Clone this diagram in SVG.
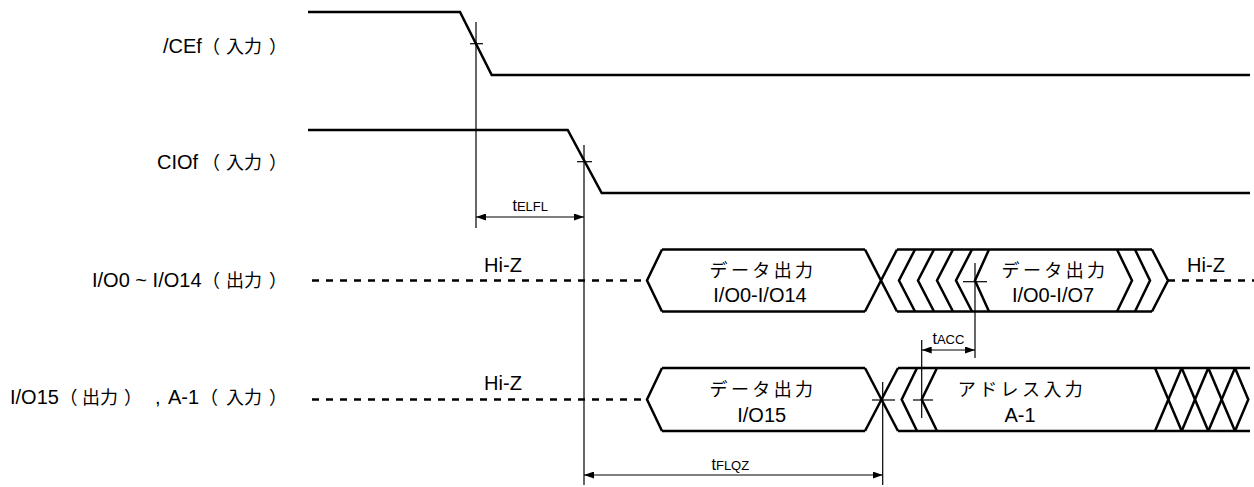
<svg xmlns="http://www.w3.org/2000/svg" width="1254" height="487" viewBox="0 0 1254 487">
<style>
.sig{fill:none;stroke:#000;stroke-width:2.5;stroke-linejoin:miter}
.dash{fill:none;stroke:#000;stroke-width:2.5;stroke-dasharray:7 7}
.thin{fill:none;stroke:#000;stroke-width:1.2}
.lbl{font-family:"Liberation Sans","Noto Sans CJK JP",sans-serif;font-size:20px;fill:#000}
.cjk{font-family:"Noto Sans CJK JP",sans-serif;font-size:18px}
.box{font-family:"Liberation Sans","Noto Sans CJK JP",sans-serif;font-size:20px;fill:#000;text-anchor:middle}
.boxj{font-family:"Noto Sans CJK JP",sans-serif;font-size:18px;letter-spacing:3.4px;fill:#000;text-anchor:middle}
.t{font-family:"Liberation Sans",sans-serif;font-size:16px;fill:#000}
.sub{font-size:13px}
</style>
<defs>
<marker id="ah" viewBox="0 0 10 7" refX="10" refY="3.5" markerWidth="10" markerHeight="7" markerUnits="userSpaceOnUse" orient="auto-start-reverse">
<path d="M0,0 L10,3.5 L0,7 z" fill="#000"/>
</marker>
</defs>
<rect width="1254" height="487" fill="#fff"/>

<g id="labels" class="lbl">
<text id="lbl-cef" y="53"><tspan x="163">/CEf</tspan><tspan class="cjk" x="202">（</tspan><tspan class="cjk" x="226">入力</tspan><tspan class="cjk" x="269">）</tspan></text>
<text id="lbl-ciof" y="169"><tspan x="157">CIOf</tspan><tspan class="cjk" x="202">（</tspan><tspan class="cjk" x="226">入力</tspan><tspan class="cjk" x="269">）</tspan></text>
<text id="lbl-io0" y="286.5"><tspan x="92">I/O0 ~ I/O14</tspan><tspan class="cjk" x="202">（</tspan><tspan class="cjk" x="226">出力</tspan><tspan class="cjk" x="269">）</tspan></text>
<text id="lbl-io15" y="404"><tspan x="10">I/O15</tspan><tspan class="cjk" x="59.5">（</tspan><tspan class="cjk" x="82">出力</tspan><tspan class="cjk" x="124">）</tspan><tspan x="155">,</tspan><tspan x="168">A-1</tspan><tspan class="cjk" x="200">（</tspan><tspan class="cjk" x="226">入力</tspan><tspan class="cjk" x="269">）</tspan></text>
</g>

<g id="sig-cef">
<polyline class="sig" points="308,12 460,12 491.7,75 1250,75"/>
</g>
<g id="sig-ciof">
<polyline class="sig" points="308,130 567.7,130 601.7,193 1250,193"/>
</g>

<g id="sig-io0">
<line class="dash" x1="312" y1="280.5" x2="647" y2="280.5"/>
<polyline class="sig" points="662,249.5 647,280.5 662,311.5"/>
<line class="sig" x1="662" y1="249.5" x2="865" y2="249.5"/>
<line class="sig" x1="662" y1="311.5" x2="865" y2="311.5"/>
<line class="sig" x1="865" y1="249.5" x2="897" y2="311.5"/>
<line class="sig" x1="865" y1="311.5" x2="897" y2="249.5"/>
<line class="sig" x1="897" y1="249.5" x2="1152" y2="249.5"/>
<line class="sig" x1="897" y1="311.5" x2="1152" y2="311.5"/>
<polyline class="sig" points="915,249.5 899,280.5 915,311.5"/>
<polyline class="sig" points="934,249.5 918,280.5 934,311.5"/>
<polyline class="sig" points="953,249.5 937,280.5 953,311.5"/>
<polyline class="sig" points="972,249.5 956,280.5 972,311.5"/>
<polyline class="sig" points="989,249.5 975,280.5 989,311.5"/>
<polyline class="sig" points="1117,249.5 1132,280.5 1117,311.5"/>
<polyline class="sig" points="1135,249.5 1150,280.5 1135,311.5"/>
<polyline class="sig" points="1152,249.5 1168,280.5 1152,311.5"/>
<line class="dash" x1="1168" y1="280.5" x2="1254" y2="280.5"/>
<text class="box" x="503" y="272">Hi-Z</text>
<text class="boxj" x="763" y="277">データ出力</text>
<text class="box" x="760" y="301.5">I/O0-I/O14</text>
<text class="boxj" x="1055" y="277">データ出力</text>
<text class="box" x="1053" y="301.5">I/O0-I/O7</text>
<text class="box" x="1206" y="271.5">Hi-Z</text>
</g>

<g id="sig-io15">
<line class="dash" x1="312" y1="399.5" x2="647" y2="399.5"/>
<polyline class="sig" points="662,368 647,399.5 662,431"/>
<line class="sig" x1="662" y1="368" x2="865" y2="368"/>
<line class="sig" x1="662" y1="431" x2="865" y2="431"/>
<line class="sig" x1="865" y1="368" x2="898" y2="431"/>
<line class="sig" x1="865" y1="431" x2="898" y2="368"/>
<line class="sig" x1="898" y1="368" x2="1250" y2="368"/>
<line class="sig" x1="898" y1="431" x2="1250" y2="431"/>
<polyline class="sig" points="917,368 901.7,399.5 917,431"/>
<polyline class="sig" points="937,368 921.7,399.5 937,431"/>
<line class="sig" x1="1155" y1="368" x2="1181.7" y2="431"/>
<line class="sig" x1="1155" y1="431" x2="1181.7" y2="368"/>
<line class="sig" x1="1181.7" y1="368" x2="1208.3" y2="431"/>
<line class="sig" x1="1181.7" y1="431" x2="1208.3" y2="368"/>
<line class="sig" x1="1208.3" y1="368" x2="1235" y2="431"/>
<line class="sig" x1="1208.3" y1="431" x2="1235" y2="368"/>
<polyline class="sig" points="1235,368 1248.3,399.5 1235,431"/>
<text class="box" x="503" y="390">Hi-Z</text>
<text class="boxj" x="763" y="396">データ出力</text>
<text class="box" x="761.7" y="421.7">I/O15</text>
<text class="boxj" x="1022" y="396">アドレス入力</text>
<text class="box" x="1020" y="421.7">A-1</text>
</g>

<g id="connectors">
<line class="thin" x1="476" y1="22" x2="476" y2="228"/>
<line class="thin" x1="470" y1="43.7" x2="483" y2="43.7"/>
<line class="thin" x1="584" y1="145" x2="584" y2="485"/>
<line class="thin" x1="577" y1="161.7" x2="592" y2="161.7"/>
<line class="thin" x1="975" y1="263" x2="975" y2="358"/>
<line class="thin" x1="963" y1="281.7" x2="987" y2="281.7"/>
<line class="thin" x1="921.7" y1="340" x2="921.7" y2="418"/>
<line class="thin" x1="913" y1="400" x2="933" y2="400"/>
<line class="thin" x1="882.7" y1="382" x2="882.7" y2="485"/>
<line class="thin" x1="872" y1="400" x2="895" y2="400"/>
<line class="thin" x1="476" y1="217" x2="584" y2="217" marker-start="url(#ah)" marker-end="url(#ah)"/>
<line class="thin" x1="921.7" y1="350" x2="975" y2="350" marker-start="url(#ah)" marker-end="url(#ah)"/>
<line class="thin" x1="584" y1="475" x2="882.7" y2="475" marker-start="url(#ah)" marker-end="url(#ah)"/>
<text class="t" x="512.5" y="210.7">t<tspan class="sub">ELFL</tspan></text>
<text class="t" x="932.5" y="344">t<tspan class="sub">ACC</tspan></text>
<text class="t" x="711.5" y="470">t<tspan class="sub">FLQZ</tspan></text>
</g>
</svg>
